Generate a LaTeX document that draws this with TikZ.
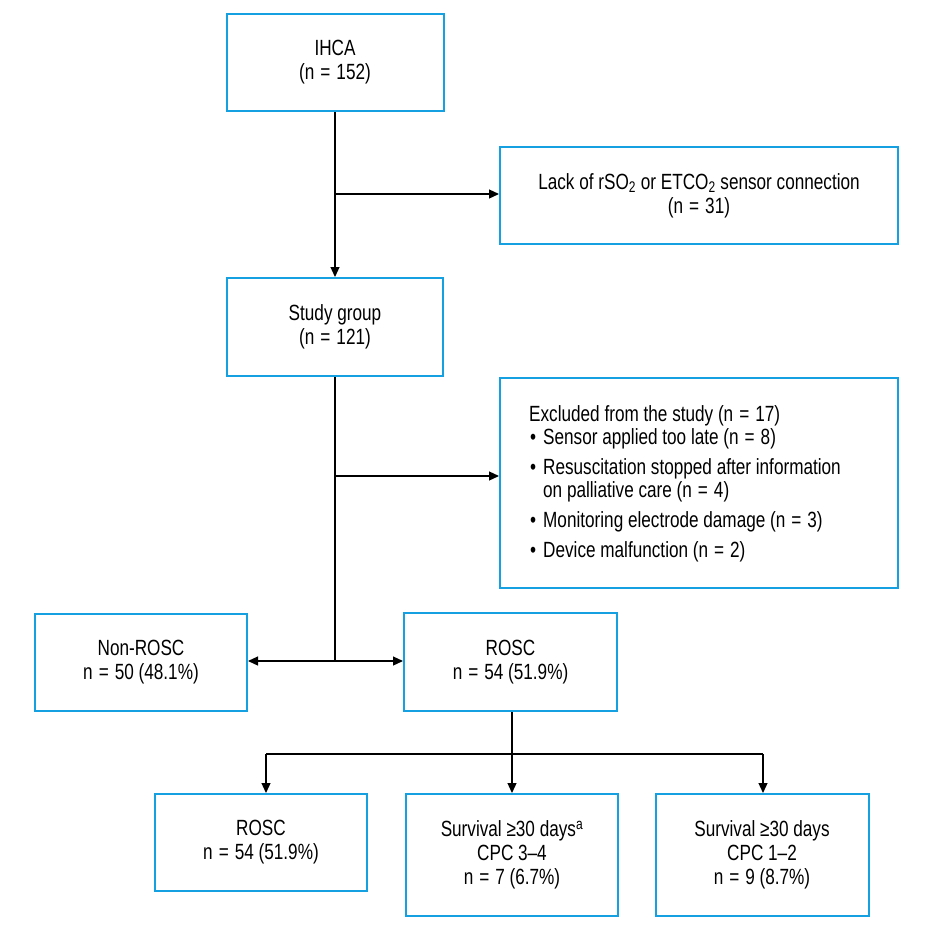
\documentclass[tikz,border=0pt]{standalone}
\usepackage{fontspec}
\setmainfont{Liberation Sans}[FakeStretch=0.78]
\usetikzlibrary{arrows.meta}
\definecolor{boxblue}{RGB}{20,160,225}
\newcommand{\bul}{\makebox[14pt][l]{\hspace{1pt}•}}
\newcommand{\eqs}{\hspace{6pt}=\hspace{6pt}}
\begin{document}
\begin{tikzpicture}[x=1pt,y=-1pt,
  box/.style={draw=boxblue,line width=2pt,fill=white,align=center,inner sep=2pt,
    font=\fontsize{22}{24}\selectfont},
  conn/.style={line width=1.2pt,black},
  arr/.style={conn,-{Triangle[length=10pt,width=9pt]}}]
\useasboundingbox (0,0) rectangle (951,938);
\node[box,minimum width=217pt,minimum height=97pt] (ihca) at (335,62.5) {IHCA\\(n\eqs 152)};
\node[box,minimum width=398pt,minimum height=97pt] (lack) at (699,195.5)
  {Lack of rSO\textsubscript{2} or ETCO\textsubscript{2} sensor connection\\(n\eqs 31)};
\node[box,minimum width=216pt,minimum height=98pt] (study) at (335,327) {Study group\\(n\eqs 121)};
\node[box,minimum width=398pt,minimum height=210pt] (excl) at (699,483) {};
\node[anchor=west,inner sep=0pt,align=left,font=\fontsize{22}{23}\selectfont] (excltext) at (529,483.5)
  {Excluded from the study (n\eqs 17)\\
   \bul Sensor applied too late (n\eqs 8)\\[7pt]
   \bul Resuscitation stopped after information\\
   \hspace*{14pt}on palliative care (n\eqs 4)\\[7pt]
   \bul Monitoring electrode damage (n\eqs 3)\\[7pt]
   \bul Device malfunction (n\eqs 2)};
\node[box,minimum width=212pt,minimum height=97pt] (nonrosc) at (141,662) {Non-ROSC\\n\eqs 50 (48.1\%)};
\node[box,minimum width=213pt,minimum height=98pt] (rosc) at (510.5,662) {ROSC\\n\eqs 54 (51.9\%)};
\node[box,minimum width=212pt,minimum height=97pt] (b1) at (261,842.5) {ROSC\\n\eqs 54 (51.9\%)};
\node[box,minimum width=212pt,minimum height=122pt] (b2) at (512,855) {Survival ≥30 days\textsuperscript{a}\\CPC 3–4\\n\eqs 7 (6.7\%)};
\node[box,minimum width=213pt,minimum height=122pt] (b3) at (762,855) {Survival ≥30 days\\CPC 1–2\\n\eqs 9 (8.7\%)};
% connectors
\coordinate (j1) at (335,194);
\coordinate (j2) at (335,476);
\coordinate (j3) at (335,661);
\coordinate (k) at (512,754);
\coordinate (kl) at (266,754);
\coordinate (kr) at (763,754);
\draw[arr] (ihca.south) -- (study.north);
\draw[arr] (j1) -- (j1 -| lack.west);
\draw[conn] (study.south) -- (j3);
\draw[arr] (j2) -- (j2 -| excl.west);
\draw[arr] (j3) -- (j3 -| nonrosc.east);
\draw[arr] (j3) -- (j3 -| rosc.west);
\draw[conn] (rosc.south -| k) -- (k);
\draw[conn] (kl) -- (kr);
\draw[arr] (kl) -- (kl |- b1.north);
\draw[arr] (k) -- (k |- b2.north);
\draw[arr] (kr) -- (kr |- b3.north);
\end{tikzpicture}
\end{document}
